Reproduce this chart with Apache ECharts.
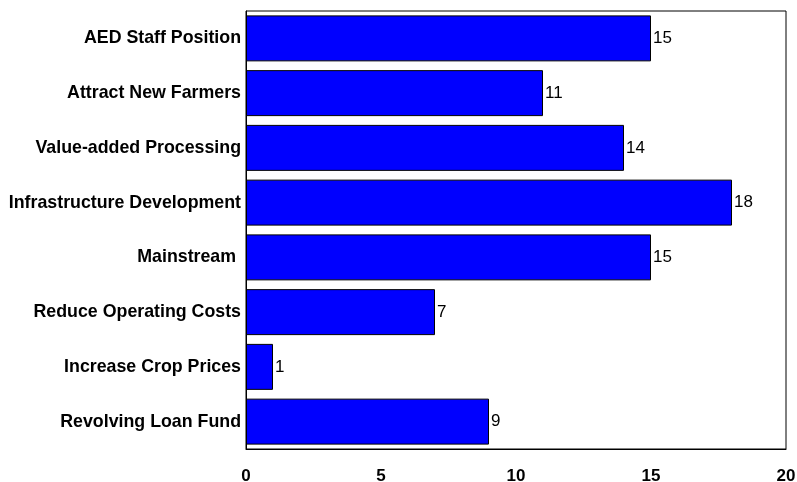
<!DOCTYPE html>
<html>
<head>
<meta charset="utf-8">
<script src="https://cdn.jsdelivr.net/npm/echarts@6/dist/echarts.min.js"></script>
<style>
  html, body { margin: 0; padding: 0; background: #fff; }
  #chart { width: 797px; height: 482px; }
</style>
</head>
<body>
<div id="chart"></div>
<script>
// Categories listed bottom to top (category axis runs upward on a horizontal bar chart)
const categories = [
  'Revolving Loan Fund',
  'Increase Crop Prices',
  'Reduce Operating Costs',
  'Mainstream ',
  'Infrastructure Development',
  'Value-added Processing',
  'Attract New Farmers',
  'AED Staff Position'
];
const counts = [9, 1, 7, 15, 18, 14, 11, 15];
const xTicks = [0, 5, 10, 15, 20];

const FONT = 'Liberation Sans, Arial, sans-serif';

const chart = echarts.init(document.getElementById('chart'));
chart.setOption({
  animation: false,
  backgroundColor: '#ffffff',
  grid: {
    left: 246, right: 11, top: 11, bottom: 33,
    outerBoundsMode: 'none',
    containLabel: false,
    show: true, borderColor: '#000000', borderWidth: 1, backgroundColor: 'transparent'
  },
  xAxis: {
    type: 'value',
    min: xTicks[0], max: xTicks[xTicks.length - 1], interval: 5,
    splitLine: { show: false },
    axisTick: { show: false },
    axisLine: { show: true, lineStyle: { color: '#000' } },
    axisLabel: {
      margin: 19, color: '#000', fontWeight: 'bold', fontSize: 17, fontFamily: FONT
    }
  },
  yAxis: {
    type: 'category',
    data: categories,
    axisTick: { show: false },
    axisLine: { show: true, lineStyle: { color: '#000' } },
    axisLabel: {
      margin: 5, color: '#000', fontWeight: 'bold', fontSize: 17.8, fontFamily: FONT
    }
  },
  series: [{
    type: 'bar',
    data: counts,
    barCategoryGap: '16%',
    itemStyle: { color: '#0000ff', borderColor: '#000000', borderWidth: 1 },
    label: {
      show: true, position: 'right', distance: 2, color: '#000', fontSize: 17, fontFamily: FONT
    }
  }]
});
</script>
</body>
</html>
